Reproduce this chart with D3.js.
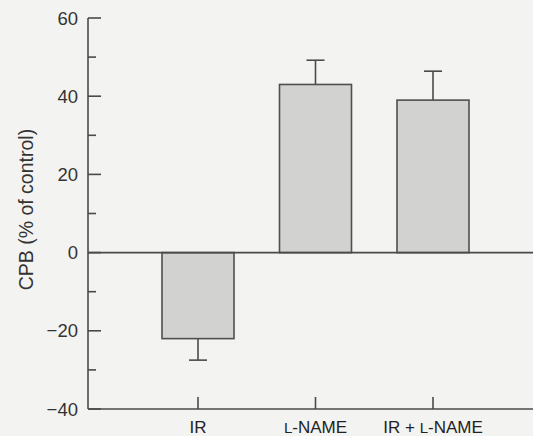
<!DOCTYPE html>
<html><head><meta charset="utf-8">
<script src="https://cdn.jsdelivr.net/npm/d3@7"></script>
<style>html,body{margin:0;padding:0;background:#f3f3f1;}svg{display:block;}</style>
</head><body>
<script>
const categories = ["IR", "L-NAME", "IR + L-NAME"];
const values = [-22, 43, 39];
const errors = [5.5, 6.2, 7.4];
const yTicks = [-40, -20, 0, 20, 40, 60];
const yMinorTicks = [-30, -10, 10, 30, 50];
const yLabel = "CPB (% of control)";

const W = 533, H = 436;
const svg = d3.select("body").append("svg").attr("width", W).attr("height", H)
  .style("font-family", "'Liberation Sans', Arial, sans-serif");
svg.append("rect").attr("width", W).attr("height", H).attr("fill", "#f3f3f1");

const axisX = 88;
const y = d3.scaleLinear().domain([-40, 60]).range([409, 18]);
const x = d3.scalePoint().domain(categories).range([198, 433]);
const barW = 72;
const ink = "#4a4a4a";

// Y axis
const yAxis = svg.append("g").attr("transform", `translate(${axisX},0)`);
yAxis.append("line").attr("y1", y(-40)).attr("y2", y(60)).attr("stroke", ink).attr("stroke-width", 1.6);
yAxis.selectAll("line.maj").data(yTicks).join("line").attr("class","maj")
  .attr("x1", 0).attr("x2", 13).attr("y1", d => y(d)).attr("y2", d => y(d))
  .attr("stroke", ink).attr("stroke-width", 1.6);
yAxis.selectAll("line.min").data(yMinorTicks).join("line").attr("class","min")
  .attr("x1", 0).attr("x2", 8).attr("y1", d => y(d)).attr("y2", d => y(d))
  .attr("stroke", ink).attr("stroke-width", 1.6);
yAxis.selectAll("text").data(yTicks).join("text")
  .attr("x", -10).attr("y", d => y(d)).attr("dy", "0.36em")
  .attr("text-anchor", "end").attr("font-size", 18.5).attr("fill", "#333")
  .text(d => d < 0 ? "\u2212" + Math.abs(d) : d);

svg.append("text")
  .attr("transform", `translate(33,${y(11)}) rotate(-90)`)
  .attr("text-anchor", "middle").attr("font-size", 19.5).attr("fill", "#333")
  .text(yLabel);

// Bottom axis line
svg.append("line").attr("x1", axisX).attr("x2", W).attr("y1", y(-40)).attr("y2", y(-40))
  .attr("stroke", ink).attr("stroke-width", 1.6);
svg.selectAll("line.xt").data(categories).join("line").attr("class","xt")
  .attr("x1", d => x(d)).attr("x2", d => x(d)).attr("y1", y(-40)).attr("y2", y(-40) - 12)
  .attr("stroke", ink).attr("stroke-width", 1.6);
const xl = svg.selectAll("text.xl").data(categories).join("text").attr("class","xl")
  .attr("x", d => x(d)).attr("y", 433).attr("text-anchor", "middle")
  .attr("font-size", 17).attr("fill", "#222");
// render the "L" of L-NAME as a small capital, as in the reference
xl.each(function(d) {
  const t = d3.select(this);
  d.split(/(L)(?=-)/).forEach(part => {
    if (!part) return;
    t.append("tspan").attr("font-size", part === "L" ? 15 : null).text(part);
  });
});

// Error bars
const data = categories.map((c, i) => ({c, v: values[i], e: errors[i]}));
svg.selectAll("line.eb").data(data).join("line").attr("class","eb")
  .attr("x1", d => x(d.c)).attr("x2", d => x(d.c))
  .attr("y1", d => y(d.v)).attr("y2", d => y(d.v + Math.sign(d.v) * d.e))
  .attr("stroke", ink).attr("stroke-width", 1.6);
svg.selectAll("line.cap").data(data).join("line").attr("class","cap")
  .attr("x1", d => x(d.c) - 9).attr("x2", d => x(d.c) + 9)
  .attr("y1", d => y(d.v + Math.sign(d.v) * d.e)).attr("y2", d => y(d.v + Math.sign(d.v) * d.e))
  .attr("stroke", ink).attr("stroke-width", 1.6);

// Bars
svg.selectAll("rect.bar").data(data).join("rect").attr("class","bar")
  .attr("x", d => x(d.c) - barW / 2).attr("width", barW)
  .attr("y", d => y(Math.max(0, d.v))).attr("height", d => Math.abs(y(d.v) - y(0)))
  .attr("fill", "#d2d2d0").attr("stroke", "#4f4f4f").attr("stroke-width", 1.6);

// Zero line
svg.append("line").attr("x1", axisX).attr("x2", W).attr("y1", y(0)).attr("y2", y(0))
  .attr("stroke", ink).attr("stroke-width", 1.6);
</script>
</body></html>
